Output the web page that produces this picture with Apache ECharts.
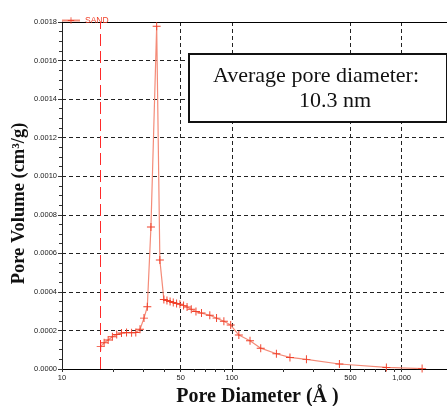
<!DOCTYPE html>
<html>
<head>
<meta charset="utf-8">
<script src="https://cdn.jsdelivr.net/npm/echarts@6/dist/echarts.min.js"></script>
<style>
  html, body { margin: 0; padding: 0; background: #fff; }
  #chart { width: 447px; height: 406px; }
</style>
</head>
<body>
<div id="chart"></div>
<script>
// pore diameter (Å) and pore volume (cm³/g)
const poreDiameter = [
  16.9, 17.7, 18.7, 19.8, 21.0, 22.4, 24.0, 25.7, 27.2, 28.8,
  30.4, 31.8, 33.4, 36.1, 37.7, 39.8, 41.5, 43.3, 45.2, 47.3,
  49.5, 52.0, 54.5, 57.7, 61.5, 66.3, 74.2, 81.3, 89.8, 98.5,
  110, 128, 148, 183, 220, 275, 430, 813, 1320
]
const poreVolume = [
  0.000116, 0.000136, 0.000150, 0.000167, 0.000179, 0.000187, 0.000189, 0.000188, 0.000189, 0.000206,
  0.000264, 0.000323, 0.000737, 0.001778, 0.000565, 0.000360, 0.000355, 0.000350, 0.000345, 0.000340,
  0.000336, 0.000330, 0.000322, 0.000310, 0.000298, 0.000290, 0.000279, 0.000264, 0.000248, 0.000228,
  0.000176, 0.000147, 0.000108, 0.000079, 0.000060, 0.000050, 0.000026, 0.000008, 0.000002
]

const seriesName = 'SAND'
const cutoffDiameter = 16.8
const xLabelValues = [10, 50, 100, 500, 1000]
const xGridValues = [50, 100, 500, 1000]
const xTickValues = [10, 20, 30, 40, 50, 60, 70, 80, 90, 100, 200, 300, 400, 500, 600, 700, 800, 900, 1000]
const yMin = 0
const yMax = 0.0018
const yStep = 0.0002
const noteLines = ['Average pore diameter:', '10.3 nm']

const red = '#f0402a'
const serif = '"Liberation Serif", "Times New Roman", serif'
const sans = '"Liberation Sans", Arial, sans-serif'
const plusSymbol = 'path://M0,4.4H10V5.6H0Z M4.4,0H5.6V10H4.4Z'

const chart = echarts.init(document.getElementById('chart'))

const gridLine = {
  show: true,
  lineStyle: { color: '#222', type: [4, 3], width: 1 },
}

chart.setOption({
  animation: false,
  backgroundColor: '#fff',
  grid: {
    left: 62,
    right: 0,
    top: 22,
    bottom: 37,
    outerBoundsMode: 'none',
    containLabel: false,
  },
  legend: {
    data: [seriesName],
    left: 56,
    top: 11,
    itemWidth: 18,
    itemHeight: 8,
    textStyle: { color: red, fontSize: 8.5, fontFamily: sans },
  },
  xAxis: [
    {
      type: 'log',
      logBase: 10,
      min: 10,
      max: 1850,
      position: 'bottom',
      axisLine: { show: true, lineStyle: { color: '#000', width: 1.2 } },
      axisTick: {
        show: true,
        customValues: xTickValues,
        length: 3,
        lineStyle: { color: '#333' },
      },
      axisLabel: {
        customValues: xLabelValues,
        formatter: (v) => Number(v).toLocaleString('en-US'),
        fontSize: 7.5,
        fontFamily: sans,
        color: '#222',
        margin: 5,
      },
      splitLine: { show: false },
      name: 'Pore Diameter (Å )',
      nameLocation: 'middle',
      nameGap: 18,
      nameMoveOverlap: false,
      nameTextStyle: { fontFamily: serif, fontWeight: 'bold', fontSize: 20, color: '#111', padding: [0, 0, 0, 6] },
    },
    {
      type: 'log',
      logBase: 10,
      min: 10,
      max: 1850,
      position: 'top',
      axisLine: { show: true, lineStyle: { color: '#000', width: 1.2 } },
      axisTick: { show: false, customValues: xGridValues },
      axisLabel: { show: false },
      splitLine: gridLine,
    },
  ],
  yAxis: {
    type: 'value',
    min: yMin,
    max: yMax,
    interval: yStep,
    axisLine: { show: true, lineStyle: { color: '#222', width: 1 } },
    axisTick: { show: true, length: 4, lineStyle: { color: '#333' } },
    minorTick: { show: true, splitNumber: 4, length: 3, lineStyle: { color: '#333' } },
    axisLabel: {
      formatter: (v) => v.toFixed(4),
      fontSize: 7.5,
      fontFamily: sans,
      color: '#222',
      margin: 5,
    },
    splitLine: gridLine,
    name: 'Pore Volume (cm³/g)',
    nameLocation: 'middle',
    nameRotate: 90,
    nameGap: 33,
    nameMoveOverlap: false,
    nameTextStyle: { fontFamily: serif, fontWeight: 'bold', fontSize: 18.5, color: '#111', padding: [0, 16, 0, 0] },
  },
  series: [{
    name: seriesName,
    type: 'line',
    xAxisIndex: 0,
    data: poreDiameter.map((d, i) => [d, poreVolume[i]]),
    symbol: plusSymbol,
    symbolSize: 8,
    itemStyle: { color: red },
    lineStyle: { color: '#f48b78', width: 1.2 },
    markLine: {
      silent: true,
      symbol: ['none', 'none'],
      label: { show: false },
      emphasis: { disabled: true },
      lineStyle: { color: '#ff2a2a', type: [12, 5], width: 1, opacity: 1 },
      data: [{ xAxis: cutoffDiameter }],
    },
  }],
  graphic: [{
    type: 'group',
    left: 188,
    top: 53,
    z: 100,
    children: [
      {
        type: 'rect',
        z: 100,
        shape: { x: 0, y: 0, width: 258, height: 68 },
        style: { fill: '#fff', stroke: '#111', lineWidth: 2 },
      },
      {
        type: 'text',
        z: 101,
        x: 24,
        y: 22,
        style: { text: noteLines[0], font: '22px ' + serif, fill: '#111', verticalAlign: 'middle' },
      },
      {
        type: 'text',
        z: 101,
        x: 110,
        y: 47,
        style: { text: noteLines[1], font: '22px ' + serif, fill: '#111', verticalAlign: 'middle' },
      },
    ],
  }],
})
</script>
</body>
</html>
